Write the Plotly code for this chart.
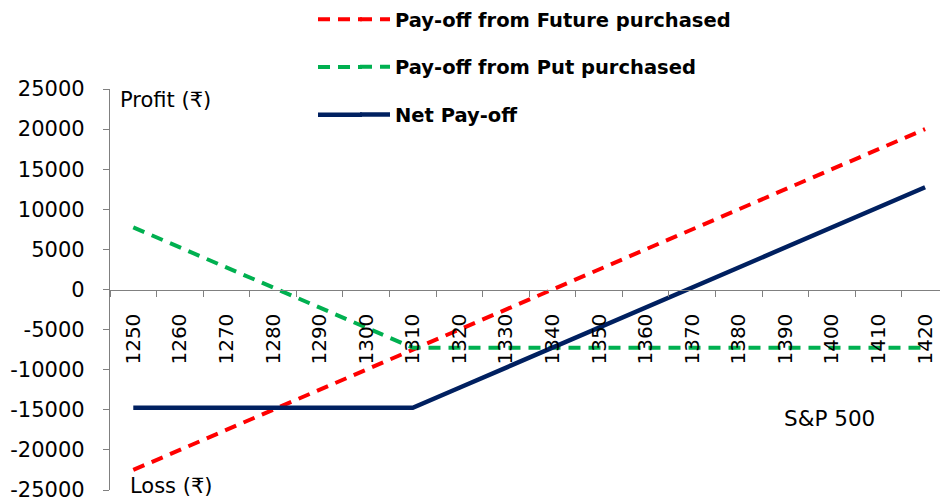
import plotly.graph_objects as go

# Data
sp500 = [1250, 1260, 1270, 1280, 1290, 1300, 1310, 1320, 1330, 1340,
         1350, 1360, 1370, 1380, 1390, 1400, 1410, 1420]
future_payoff = [-22500, -20000, -17500, -15000, -12500, -10000, -7500, -5000, -2500, 0,
                 2500, 5000, 7500, 10000, 12500, 15000, 17500, 20000]
put_payoff = [7750, 5250, 2750, 250, -2250, -4750, -7250, -7250, -7250, -7250,
              -7250, -7250, -7250, -7250, -7250, -7250, -7250, -7250]
net_payoff = [-14750, -14750, -14750, -14750, -14750, -14750, -14750, -12250, -9750, -7250,
              -4750, -2250, 250, 2750, 5250, 7750, 10250, 12750]
y_tickvals = [-25000, -20000, -15000, -10000, -5000, 0, 5000, 10000, 15000, 20000, 25000]
y_ticktext = ["-25000", "-20000", "-15000", "-10000", "-5000", "0", "5000", "10000", "15000", "20000", "25000"]
x_labels = [str(v) for v in sp500]

FONT = "DejaVu Sans"
RED, GREEN, NAVY = "#FF0000", "#00B050", "#002060"
DASH = "12px,8px"

# plot area in pixels
L, R, T, B = 110, 940, 89, 492
def px_x(p):
    return (p - L) / (R - L)
def px_y(p):
    return (B - p) / (B - T)

fig = go.Figure()
fig.add_trace(go.Scatter(x=x_labels, y=future_payoff, mode="lines", name="Pay-off from Future purchased",
                         line=dict(color=RED, width=4, dash=DASH), legend="legend"))
fig.add_trace(go.Scatter(x=x_labels, y=put_payoff, mode="lines", name="Pay-off from Put purchased",
                         line=dict(color=GREEN, width=4, dash=DASH), legend="legend2"))
fig.add_trace(go.Scatter(x=x_labels, y=net_payoff, mode="lines", name="Net Pay-off",
                         line=dict(color=NAVY, width=4.5), legend="legend3"))

legend_common = dict(xanchor="left", yanchor="middle", bgcolor="rgba(0,0,0,0)",
                     font=dict(family=FONT, size=19.5, color="black", weight="bold"),
                     itemwidth=30, visible=True)
lx = px_x(355)
leg_y = [19, 67, 115]

# extend legend swatches to the reference's longer sample lines
shapes = []
for yy, col, dash, w in [(leg_y[0], RED, DASH, 4), (leg_y[1], GREEN, DASH, 4), (leg_y[2], NAVY, "solid", 4.5)]:
    shapes.append(dict(type="line", xref="paper", yref="paper", x0=px_x(318), x1=px_x(362),
                       y0=px_y(yy), y1=px_y(yy), line=dict(color=col, width=w, dash=dash), layer="above"))

fig.update_layout(
    width=940, height=502,
    margin=dict(l=L, r=0, t=T, b=502 - B),
    paper_bgcolor="white", plot_bgcolor="white",
    showlegend=True,
    font=dict(family=FONT, size=20, color="black"),
    legend=dict(x=lx, y=px_y(leg_y[0]), **legend_common),
    legend2=dict(x=lx, y=px_y(leg_y[1]), **legend_common),
    legend3=dict(x=lx, y=px_y(leg_y[2]), **legend_common),
    xaxis=dict(type="category", range=[-0.5, 17.32], anchor="free", position=0.5,
               showline=True, linecolor="#808080", linewidth=1.3,
               ticks="outside", tickson="boundaries", ticklen=6, tickcolor="#808080",
               tickangle=-90, ticklabelstandoff=15,
               tickfont=dict(family=FONT, size=20, color="black"),
               showgrid=False, zeroline=False),
    yaxis=dict(range=[-25000, 25000], tickvals=y_tickvals, ticktext=y_ticktext,
               showline=True, linecolor="#808080", linewidth=1.3,
               ticks="outside", ticklen=6, tickcolor="#808080",
               ticklabelstandoff=14, ticklabeloverflow="allow",
               tickfont=dict(family=FONT, size=21, color="black"),
               showgrid=False, zeroline=False),
    shapes=shapes,
    annotations=[
        dict(text="Profit (₹)", xref="paper", yref="paper", x=px_x(118), y=px_y(100),
             xanchor="left", yanchor="middle", showarrow=False, font=dict(family=FONT, size=21)),
        dict(text="Loss (₹)", xref="paper", yref="paper", x=px_x(128), y=px_y(488),
             xanchor="left", yanchor="middle", showarrow=False, font=dict(family=FONT, size=21)),
        dict(text="S&P 500", xref="paper", yref="paper", x=px_x(829), y=px_y(420),
             xanchor="center", yanchor="middle", showarrow=False, font=dict(family=FONT, size=21.5)),
    ],
)

fig.write_html("out.html", config={"displayModeBar": False},
               post_script="document.body.style.margin='0';")
